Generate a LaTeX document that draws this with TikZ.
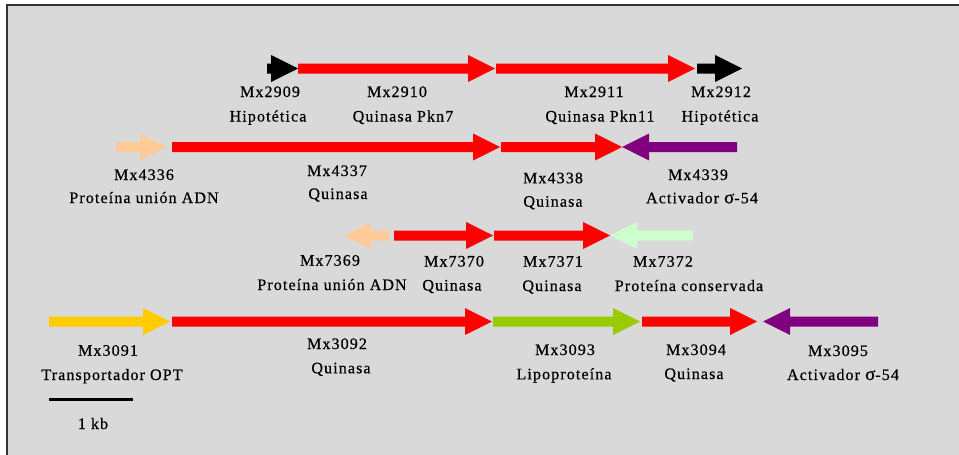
\documentclass[tikz,border=0pt]{standalone}
\usepackage{fontspec}
\setmainfont{Liberation Serif}[LetterSpace=7,FakeBold=0.6]
\definecolor{bgray}{HTML}{D9D9D9}
\definecolor{gred}{HTML}{FF0000}
\definecolor{gpeach}{HTML}{FFCC99}
\definecolor{gmint}{HTML}{CCFFCC}
\definecolor{gpurple}{HTML}{800080}
\definecolor{gyellow}{HTML}{FFCC00}
\definecolor{glime}{HTML}{99CC00}
\newcommand\GeneRight[4]{% color, start, tip, y
  \fill[#1] (#2,{#4-5}) -- ({#3-27},{#4-5}) -- ({#3-27},{#4-13.5}) -- (#3,#4)
    -- ({#3-27},{#4+13.5}) -- ({#3-27},{#4+5}) -- (#2,{#4+5}) -- cycle;}
\newcommand\GeneLeft[4]{% color, tip, end, y
  \fill[#1] (#3,{#4-5}) -- ({#2+27},{#4-5}) -- ({#2+27},{#4-13.5}) -- (#2,#4)
    -- ({#2+27},{#4+13.5}) -- ({#2+27},{#4+5}) -- (#3,{#4+5}) -- cycle;}
\newcommand\SigmaBig{{\fontsize{19}{18}\selectfont σ}}
\begin{document}
\begin{tikzpicture}[x=1pt,y=-1pt,
  lbl/.style={anchor=base,inner sep=0pt,font=\fontsize{16}{18}\selectfont}]
\useasboundingbox (0,0) rectangle (959,455);
\fill[white] (0,0) rectangle (959,455);
\fill[bgray] (7,5) rectangle (959,455);
\draw[black!80,line width=2pt] (7,455) -- (7,5) -- (959,5);
% row 1
\GeneRight{black}{267}{298}{68.5}
\GeneRight{gred}{298}{495}{68.5}
\GeneRight{gred}{496}{695}{68.5}
\GeneRight{black}{697}{742}{68.5}
% row 2
\GeneRight{gpeach}{116}{167}{147}
\GeneRight{gred}{172}{500}{147}
\GeneRight{gred}{501}{622}{147}
\GeneLeft{gpurple}{622}{737}{147}
% row 3
\GeneLeft{gpeach}{344}{389}{235.5}
\GeneRight{gred}{394}{493}{235.5}
\GeneRight{gred}{494}{610}{235.5}
\GeneLeft{gmint}{610}{693}{235.5}
% row 4
\GeneRight{gyellow}{49}{170}{321.5}
\GeneRight{gred}{172}{492}{321.5}
\GeneRight{glime}{493}{640}{321.5}
\GeneRight{gred}{642}{757}{321.5}
\GeneLeft{gpurple}{763}{878}{321.5}
% scale bar
\coordinate (sbA) at (49,399);
\coordinate (sbB) at (133,399);
\draw[black,line width=3pt] (sbA) -- (sbB);
\node[lbl] (kb) at (93,429) {1 kb};
% labels row 1
\node[lbl] (n2909) at (270,97) {Mx2909};
\node[lbl] (d2909) at (268,121.5) {Hipotética};
\node[lbl] (n2910) at (397,97) {Mx2910};
\node[lbl] (d2910) at (403,121.5) {Quinasa Pkn7};
\node[lbl] (n2911) at (594,97) {Mx2911};
\node[lbl] (d2911) at (600,121.5) {Quinasa Pkn11};
\node[lbl] (n2912) at (721,97) {Mx2912};
\node[lbl] (d2912) at (720,121.5) {Hipotética};
% labels row 2
\node[lbl] (n4336) at (144,180) {Mx4336};
\node[lbl] (d4336) at (144,203) {Proteína unión ADN};
\node[lbl] (n4337) at (337,176) {Mx4337};
\node[lbl] (d4337) at (338,199) {Quinasa};
\node[lbl] (n4338) at (553,183.3) {Mx4338};
\node[lbl] (d4338) at (553,206.7) {Quinasa};
\node[lbl] (n4339) at (698,180) {Mx4339};
\node[lbl] (d4339) at (702,203.3) {Activador \SigmaBig-54};
% labels row 3
\node[lbl] (n7369) at (330,265.7) {Mx7369};
\node[lbl] (d7369) at (332,290) {Proteína unión ADN};
\node[lbl] (n7370) at (454,266.5) {Mx7370};
\node[lbl] (d7370) at (452,290.5) {Quinasa};
\node[lbl] (n7371) at (553,266.7) {Mx7371};
\node[lbl] (d7371) at (552,291) {Quinasa};
\node[lbl] (n7372) at (663,266.7) {Mx7372};
\node[lbl] (d7372) at (689,291) {Proteína conservada};
% labels row 4
\node[lbl] (n3091) at (108,355.7) {Mx3091};
\node[lbl] (d3091) at (112,380) {Transportador OPT};
\node[lbl] (n3092) at (337,349) {Mx3092};
\node[lbl] (d3092) at (341,373.3) {Quinasa};
\node[lbl] (n3093) at (565,355) {Mx3093};
\node[lbl] (d3093) at (564,379.3) {Lipoproteína};
\node[lbl] (n3094) at (696,355) {Mx3094};
\node[lbl] (d3094) at (694,379) {Quinasa};
\node[lbl] (n3095) at (838,356) {Mx3095};
\node[lbl] (d3095) at (843,380) {Activador \SigmaBig-54};
\end{tikzpicture}
\end{document}
